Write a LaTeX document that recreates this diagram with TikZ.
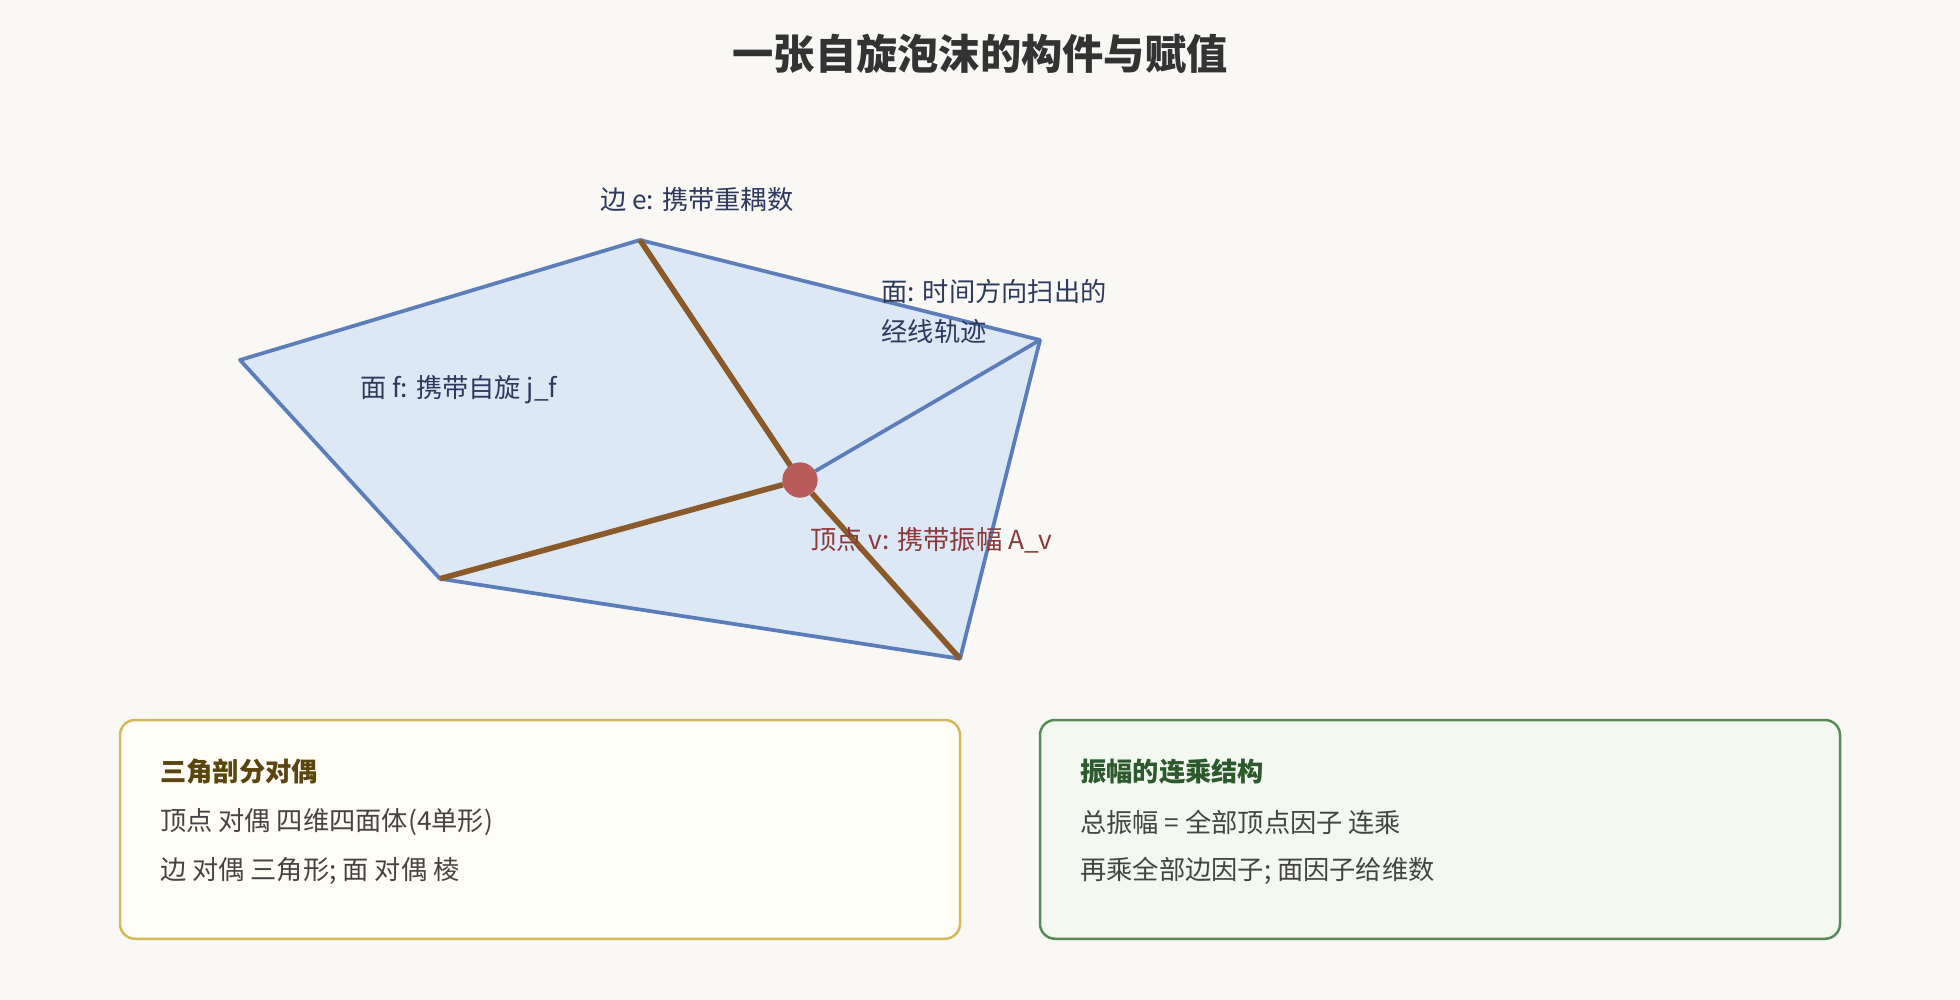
\documentclass[tikz,border=0pt]{standalone}
\usepackage{fontspec}
\setmainfont{Noto Sans CJK SC}
\definecolor{bgcol}{HTML}{F9F8F5}
\definecolor{facefill}{HTML}{DCE8F5}
\definecolor{edgeblue}{HTML}{5B7DBA}
\definecolor{edgebrown}{HTML}{8B5A2B}
\definecolor{vertred}{HTML}{B85C5C}
\definecolor{labelnavy}{HTML}{2E3A5C}
\definecolor{labelred}{HTML}{8B3A3A}
\definecolor{goldline}{HTML}{D4B85A}
\definecolor{goldfill}{HTML}{FFFDF5}
\definecolor{goldtext}{HTML}{5A4510}
\definecolor{greenline}{HTML}{5A8A5A}
\definecolor{greenfill}{HTML}{F3F8F1}
\definecolor{greentext}{HTML}{2D5A2D}
\definecolor{bodytext}{HTML}{444444}
\tikzset{
  facelabel/.style={anchor=west, inner sep=0pt, text=labelnavy, font=\fontsize{21}{25}\selectfont},
  boxhead/.style={anchor=west, inner sep=0pt, font=\bfseries\fontsize{21}{25}\selectfont},
  boxline/.style={anchor=west, inner sep=0pt, text=bodytext, font=\fontsize{21}{25}\selectfont},
  brownedge/.style={edgebrown, line width=4.5pt},
}
\begin{document}
\begin{tikzpicture}[x=1pt,y=-1pt]
        \useasboundingbox[fill=bgcol] (0,0) rectangle (1568,800);
        \node[font=\bfseries\fontsize{33}{38}\selectfont, text=black!80] (title) at (784,43)
             {一张自旋泡沫的构件与赋值};

        % the piece of foam
        \coordinate (top) at (512,192);
        \coordinate (right) at (832,272);
        \coordinate (bottom) at (768,527);
        \coordinate (lower) at (352,463);
        \coordinate (left) at (192,288);
        \filldraw[fill=facefill, draw=edgeblue, line width=3pt, line join=round]
             (top) -- (right) -- (bottom) -- (lower) -- (left) -- cycle;
        \node[circle, fill=vertred, minimum size=28pt, inner sep=0pt] (vertex) at (640,384) {};
        \draw[edgeblue, line width=3pt] (vertex) -- (right);
        \draw[brownedge] (vertex.center) -- (top);
        \draw[brownedge] (vertex) -- (lower);
        \draw[brownedge] (vertex) -- (bottom);
        \node[circle, fill=vertred, minimum size=28pt, inner sep=0pt] at (vertex) {};

        \node[facelabel] (edgelabel) at (480,160) {边 e: 携带重耦数};
        \node[facelabel] (timelabel) at (705,233) {面: 时间方向扫出的};
        \node[facelabel] (timelabel2) at (705,265) {经线轨迹};
        \node[facelabel] (facelabel) at (288,312) {面 f: 携带自旋 j\_f};
        \node[facelabel, text=labelred] (vertlabel) at (648,432) {顶点 v: 携带振幅 A\_v};

        % the two boxes
        \draw[fill=goldfill, draw=goldline, line width=2pt, rounded corners=12pt]
             (96,576) rectangle (768,751);
        \node[boxhead, text=goldtext] (dualhead) at (128,617) {三角剖分对偶};
        \node[boxline] (dualone) at (128,658) {顶点 对偶 四维四面体(4单形)};
        \node[boxline] (dualtwo) at (128,697) {边 对偶 三角形; 面 对偶 棱};

        \draw[fill=greenfill, draw=greenline, line width=2pt, rounded corners=12pt]
             (832,576) rectangle (1472,751);
        \node[boxhead, text=greentext] (amphead) at (864,617) {振幅的连乘结构};
        \node[boxline] (ampone) at (864,658) {总振幅 = 全部顶点因子 连乘};
        \node[boxline] (amptwo) at (864,697) {再乘全部边因子; 面因子给维数};
\end{tikzpicture}
\end{document}
